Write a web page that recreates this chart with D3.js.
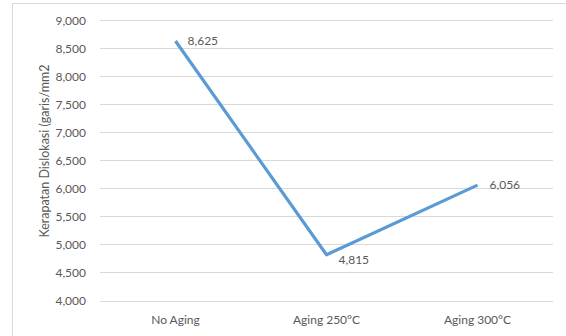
<!DOCTYPE html>
<html>
<head>
<meta charset="utf-8">
<script src="https://cdn.jsdelivr.net/npm/d3@7"></script>
<style>
  body { margin: 0; background: #fff; }
  svg text { font-family: Lato, "Open Sans", sans-serif; fill: #595959; }
</style>
</head>
<body>
<svg id="chart" width="566" height="336"></svg>
<script>
const categories = ["No Aging", "Aging 250°C", "Aging 300°C"];
const values = [8625, 4815, 6056];
const yTicks = [4000, 4500, 5000, 5500, 6000, 6500, 7000, 7500, 8000, 8500, 9000];
const yTitle = "Kerapatan Dislokasi (garis/mm2";

const svg = d3.select("#chart");
const W = 566, H = 336;
const margin = { left: 100, right: 13, top: 20, bottom: 35.5 };

// chart area frame
svg.append("rect")
  .attr("x", 12.5).attr("y", 3.5)
  .attr("width", W).attr("height", H)
  .attr("fill", "#fff").attr("stroke", "#d9d9d9").attr("stroke-width", 1);

const x = d3.scaleBand().domain(categories).range([margin.left, W - margin.right]);
const y = d3.scaleLinear().domain([4000, 9000]).range([H - margin.bottom, margin.top]);

const fmt = d3.format(",");

// horizontal gridlines
svg.append("g").selectAll("line").data(yTicks).join("line")
  .attr("x1", margin.left).attr("x2", W - margin.right)
  .attr("y1", d => Math.round(y(d)) + 0.5).attr("y2", d => Math.round(y(d)) + 0.5)
  .attr("stroke", "#d9d9d9").attr("stroke-width", 1);

// y tick labels
svg.append("g").selectAll("text").data(yTicks).join("text")
  .attr("x", 86).attr("y", d => y(d))
  .attr("text-anchor", "end").attr("dominant-baseline", "central")
  .attr("font-size", 12)
  .text(d => fmt(d));

// category labels
svg.append("g").selectAll("text").data(categories).join("text")
  .attr("x", d => x(d) + x.bandwidth() / 2).attr("y", 319)
  .attr("text-anchor", "middle").attr("dominant-baseline", "central")
  .attr("font-size", 12)
  .text(d => d);

// y axis title
svg.append("text")
  .attr("transform", `translate(44,151) rotate(-90)`)
  .attr("text-anchor", "middle").attr("dominant-baseline", "central")
  .attr("font-size", 12.5)
  .text(yTitle);

// series line
const line = d3.line()
  .x((d, i) => x(categories[i]) + x.bandwidth() / 2)
  .y(d => y(d));
svg.append("path")
  .datum(values)
  .attr("d", line)
  .attr("fill", "none")
  .attr("stroke", "#5b9bd5")
  .attr("stroke-width", 3.2)
  .attr("stroke-linejoin", "round");

// data labels, to the right of each point
svg.append("g").selectAll("text").data(values).join("text")
  .attr("x", (d, i) => x(categories[i]) + x.bandwidth() / 2 + 12)
  .attr("y", (d, i) => y(d) + (i === 1 ? 5 : -1))
  .attr("dominant-baseline", "central")
  .attr("font-size", 12)
  .text(d => fmt(d));
</script>
</body>
</html>
